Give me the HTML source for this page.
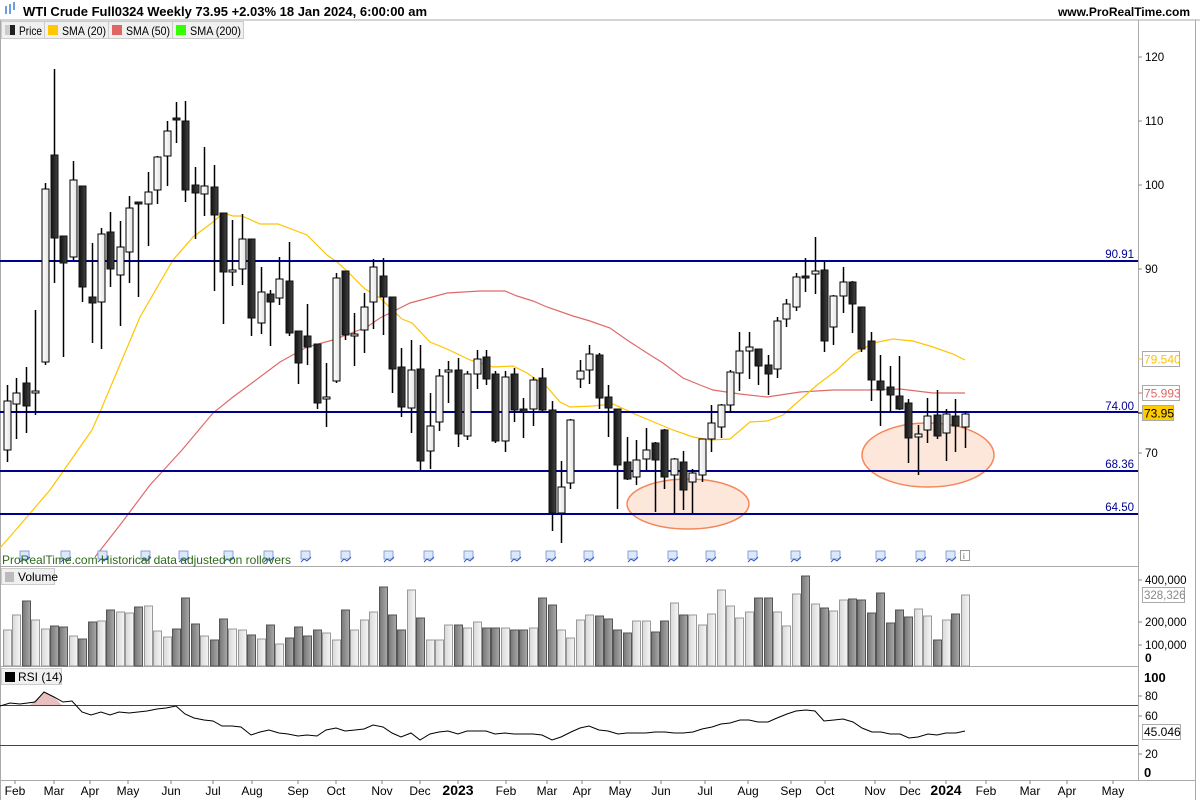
<!DOCTYPE html>
<html><head><meta charset="utf-8"><style>
body{margin:0;background:#fff;width:1200px;height:800px;overflow:hidden;font-family:"Liberation Sans","DejaVu Sans",sans-serif}
svg text{font-family:"Liberation Sans","DejaVu Sans",sans-serif}
</style></head><body>
<svg id="s" width="1200" height="800" xmlns="http://www.w3.org/2000/svg">
<rect width="1200" height="800" fill="#fff"/>
<defs>
<linearGradient id="gb" x1="0" x2="1"><stop offset="0" stop-color="#111"/><stop offset="1" stop-color="#444"/></linearGradient>
<linearGradient id="gw" x1="0" x2="1"><stop offset="0" stop-color="#fff"/><stop offset="1" stop-color="#e4e4e4"/></linearGradient>
<linearGradient id="vd" x1="0" x2="1"><stop offset="0" stop-color="#777"/><stop offset="1" stop-color="#aaa"/></linearGradient>
<linearGradient id="vl" x1="0" x2="1"><stop offset="0" stop-color="#d8d8d8"/><stop offset="1" stop-color="#f6f6f6"/></linearGradient>
</defs>
<g id="g"></g>
</svg>
<script>
const NS="http://www.w3.org/2000/svg";const G=document.getElementById('g');
function el(t,a,txt){const e=document.createElementNS(NS,t);for(const k in a)e.setAttribute(k,a[k]);if(txt!==undefined)e.textContent=txt;G.appendChild(e);return e;}
// frame
el('line',{x1:0,y1:20,x2:1200,y2:20,stroke:'#aaa'});
el('line',{x1:0.5,y1:20,x2:0.5,y2:800,stroke:'#aaa'});
el('line',{x1:1138.5,y1:20,x2:1138.5,y2:780,stroke:'#aaa'});
el('line',{x1:1195.5,y1:20,x2:1195.5,y2:800,stroke:'#aaa'});
el('line',{x1:0,y1:566.5,x2:1138,y2:566.5,stroke:'#aaa'});
el('line',{x1:0,y1:666.5,x2:1138,y2:666.5,stroke:'#aaa'});
el('line',{x1:0,y1:780.5,x2:1196,y2:780.5,stroke:'#aaa'});
// header
el('rect',{x:5,y:6,width:2,height:8,fill:'#6aa0e0'});el('rect',{x:9,y:4,width:2,height:10,fill:'#6aa0e0'});el('rect',{x:13,y:2,width:2,height:8,fill:'#6aa0e0'});
el('text',{x:23,y:16,'font-size':13,'font-weight':'bold',fill:'#000'},'WTI Crude Full0324 Weekly 73.95 +2.03% 18 Jan 2024, 6:00:00 am');
el('text',{x:1190,y:16,'font-size':12,'font-weight':'bold','text-anchor':'end',fill:'#000'},'www.ProRealTime.com');
const leg=[[1,44,'Price','#222',23],[44,108,'SMA (20)','#ffc800',44],[108,172,'SMA (50)','#e06666',44],[172,243,'SMA (200)','#33ff00',51]];
leg.forEach(l=>{el('rect',{x:l[0]+0.5,y:21.5,width:l[1]-l[0],height:17,fill:'#f0f0f0',stroke:'#ccc'});el('rect',{x:l[0]+4,y:25,width:10,height:10,fill:l[3]});el('text',{x:l[0]+18,y:35,'font-size':12,fill:'#000',textLength:l[4],lengthAdjust:'spacingAndGlyphs'},l[2]);});
el('rect',{x:5,y:25,width:5,height:10,fill:'#ccc'});
// ellipses
el('ellipse',{cx:688,cy:504,rx:61,ry:25,fill:'#fde6da',stroke:'#f4875a','stroke-width':1.5});
el('ellipse',{cx:928,cy:455,rx:66,ry:32,fill:'#fde6da',stroke:'#f4875a','stroke-width':1.5});
// SMA lines
const s20=[[0,548],[20,525],[50,490],[78,450],[92,430],[100,412],[140,317],[173,260],[193,237],[213,222],[223,213],[233,216],[242,216],[260,224],[278,224],[307,235],[327,255],[337,262],[347,271],[365,289],[380,298],[402,319],[412,323],[430,342],[447,349],[470,360],[493,367],[513,366],[527,373],[547,387],[560,402],[570,407],[593,406],[613,404],[637,415],[673,430],[693,437],[710,440],[730,439],[750,422],[767,421],[783,415],[800,400],[817,385],[837,370],[853,355],[873,343],[893,339],[913,341],[933,347],[953,354],[965,360]];
const s50=[[95,557],[120,525],[150,485],[182,450],[213,413],[233,397],[260,377],[280,362],[307,347],[333,340],[367,327],[380,318],[410,303],[447,293],[480,291],[505,291],[517,296],[533,301],[547,307],[573,316],[590,321],[610,328],[627,340],[647,353],[663,363],[683,378],[700,385],[713,390],[740,394],[767,397],[800,392],[833,390],[867,390],[900,389],[933,393],[965,393]];
el('polyline',{points:s50.join(' '),fill:'none',stroke:'#e06a6a','stroke-width':1.2});
el('polyline',{points:s20.join(' '),fill:'none',stroke:'#ffc400','stroke-width':1.2});
// horizontal levels
[[261,'90.91',254],[412,'74.00',406],[471,'68.36',464],[514,'64.50',507]].forEach(h=>{el('line',{x1:0,y1:h[0],x2:1138,y2:h[0],stroke:'#00008f','stroke-width':2});el('text',{x:1134,y:h[2]+4,'font-size':11.5,'text-anchor':'end',fill:'#00008f'},h[1]);});
// candles [o,c,h,l]
const C=[[450,401,385,462],[404,393,378,439],[383,406,367,433],[393,391,310,415],[362,189,183,365],[155,238,69,283],[236,263,236,357],[257,180,161,260],[186,287,186,302],[297,303,243,343],[302,234,228,349],[232,269,212,287],[275,247,221,326],[252,208,196,283],[202,204,202,297],[204,192,172,246],[190,157,156,204],[156,131,121,186],[118,120,102,143],[121,190,101,202],[185,193,167,239],[194,186,147,216],[187,215,165,291],[213,272,213,324],[270,270,220,286],[269,239,214,285],[239,318,239,336],[323,292,267,334],[294,302,290,346],[298,279,257,305],[281,333,242,336],[331,363,331,384],[336,347,304,365],[344,403,344,409],[397,397,363,427],[381,278,273,383],[271,335,271,340],[335,334,313,366],[330,307,293,353],[302,267,259,329],[276,297,258,335],[297,369,297,393],[367,407,348,417],[408,370,340,433],[369,461,345,470],[451,426,393,469],[422,376,369,431],[370,370,361,403],[370,434,358,447],[436,374,371,440],[374,359,350,389],[357,379,350,385],[374,441,371,443],[441,377,371,452],[374,410,368,422],[409,412,398,438],[409,380,377,426],[378,410,368,412],[410,513,401,531],[513,487,461,543],[483,420,419,489],[379,371,360,388],[370,354,345,384],[355,398,353,409],[397,408,385,437],[409,465,409,509],[462,479,437,480],[477,460,440,485],[459,450,428,470],[443,460,442,512],[430,477,429,489],[475,459,458,513],[462,490,451,510],[482,473,469,513],[475,439,439,482],[439,423,405,452],[427,405,404,438],[405,372,370,413],[373,351,332,391],[351,347,332,379],[349,366,349,385],[365,374,355,395],[369,321,317,378],[319,304,299,327],[307,277,273,311],[276,277,258,292],[274,271,237,294],[270,341,262,352],[327,296,295,345],[296,282,267,313],[282,304,281,333],[307,349,307,352],[341,380,332,401],[381,390,355,426],[387,395,366,412],[396,409,356,410],[403,438,399,463],[437,434,425,475],[430,416,398,443],[415,436,390,439],[433,414,409,461],[416,426,399,452],[427,414,411,448]];
const X=i=>7+i*9.39;
C.forEach((c,i)=>{const x=Math.round(X(i));const [o,cl,h,l]=c;el('line',{x1:x+0.5,y1:h,x2:x+0.5,y2:l,stroke:'#000','stroke-width':1.5});
 const top=Math.min(o,cl),hh=Math.max(Math.abs(o-cl),2);const bear=cl>o;
 el('rect',{x:x-3,y:top,width:7,height:hh,fill:bear?'url(#gb)':'url(#gw)',stroke:bear?'#111':'#000','stroke-width':1});});
// price axis
[[57,'120'],[121,'110'],[185,'100'],[269,'90'],[453,'70']].forEach(t=>{el('line',{x1:1138,y1:t[0],x2:1142,y2:t[0],stroke:'#888'});el('text',{x:1145,y:t[0]+4,'font-size':11.5,fill:'#000'},t[1]);});
function box(y,txt,col,bg){el('line',{x1:1138,y1:y,x2:1142,y2:y,stroke:col});el('rect',{x:1142.5,y:y-7.5,width:37,height:15,fill:bg,stroke:'#aaa'});el('text',{x:1144,y:y+4.5,'font-size':12,fill:col},txt);}
box(359,'79.540','#ffc000','#fff');box(393,'75.993','#e06666','#fff');
el('line',{x1:1138,y1:413,x2:1142,y2:413,stroke:'#000'});el('rect',{x:1142.5,y:405.5,width:31,height:15,fill:'#ffcc00',stroke:'#aaa'});el('text',{x:1144,y:417.5,'font-size':12,fill:'#000'},'73.95');
// event icons
[24,65,102,145,183,228,268,305,345,388,428,468,515,550,588,632,672,710,752,795,835,880,920,950].forEach(x=>{el('rect',{x:x-4,y:551,width:9,height:8,fill:'#dde8f8',stroke:'#7090d0','stroke-width':0.8});el('polyline',{points:`${x-4},562 ${x-1},559 ${x+2},561 ${x+6},557`,fill:'none',stroke:'#3355cc','stroke-width':1});});
el('rect',{x:960.5,y:550.5,width:9,height:10,fill:'#fff',stroke:'#999'});el('text',{x:963,y:559,'font-size':8,fill:'#555'},'i');
el('text',{x:2,y:564,'font-size':12,fill:'#2d6a1a'},'ProRealTime.com  Historical data adjusted on rollovers');
// volume
el('rect',{x:1.5,y:568.5,width:53,height:16,fill:'#f0f0f0',stroke:'#ccc'});el('rect',{x:5,y:572,width:9,height:10,fill:'#bbb'});el('text',{x:18,y:581,'font-size':12,fill:'#000'},'Volume');
const V=[630,615,601,620,629,626,627,636,639,622,621,610,612,613,607,606,631,637,629,598,624,636,640,619,629,630,635,639,625,644,638,627,636,630,633,640,610,630,620,612,587,615,630,590,618,640,640,625,625,628,622,628,628,628,630,630,628,598,605,630,638,620,615,616,619,630,633,621,621,632,621,603,615,615,625,614,590,606,618,612,598,598,612,626,594,576,604,608,611,600,599,600,613,593,623,610,617,609,616,640,620,614,595];
V.forEach((v,i)=>{const x=Math.round(X(i));const bear=C[i][1]>C[i][0];el('rect',{x:x-3.5,y:v,width:8,height:666-v,fill:bear?'url(#vd)':'url(#vl)',stroke:bear?'#555':'#999','stroke-width':1});});
[[580,'400,000'],[622,'200,000'],[645,'100,000']].forEach(t=>{el('line',{x1:1138,y1:t[0],x2:1142,y2:t[0],stroke:'#888'});el('text',{x:1145,y:t[0]+4,'font-size':11.5,fill:'#000'},t[1]);});
el('text',{x:1145,y:662,'font-size':12,'font-weight':'bold',fill:'#000'},'0');
el('rect',{x:1142.5,y:587.5,width:42,height:15,fill:'#fff',stroke:'#aaa'});el('text',{x:1144,y:599,'font-size':11.5,fill:'#888'},'328,326');
// RSI
el('rect',{x:1.5,y:668.5,width:60,height:16,fill:'#f0f0f0',stroke:'#ccc'});el('rect',{x:5,y:672,width:10,height:10,fill:'#000'});el('text',{x:18,y:681,'font-size':12,fill:'#000'},'RSI (14)');
el('polygon',{points:'30,705 44,692 54,697 62,705',fill:'#e8c0c0',stroke:'none'});
el('line',{x1:0,y1:705.5,x2:1138,y2:705.5,stroke:'#3030e0'});el('line',{x1:0,y1:745.5,x2:1138,y2:745.5,stroke:'#3030e0'});
const R=[[0,706],[10,703],[20,704],[35,702],[44,692],[54,697],[63,702],[72,701],[82,712],[91,715],[101,712],[110,715],[119,712],[129,713],[138,712],[147,711],[157,709],[166,708],[176,706],[185,714],[194,718],[204,720],[213,721],[222,726],[232,726],[241,727],[251,735],[260,732],[269,730],[279,733],[288,734],[298,736],[307,735],[317,736],[326,730],[336,728],[345,731],[355,730],[364,729],[373,725],[383,727],[392,733],[401,737],[411,733],[420,740],[430,734],[439,732],[448,731],[458,734],[467,731],[476,731],[486,731],[495,734],[505,733],[514,734],[523,734],[533,734],[542,735],[552,740],[561,737],[571,732],[580,728],[589,726],[599,730],[608,731],[618,734],[627,733],[636,733],[646,733],[655,732],[665,732],[674,733],[683,733],[693,732],[702,729],[712,727],[721,724],[730,723],[740,720],[749,720],[758,722],[768,722],[777,718],[787,714],[796,711],[806,710],[815,711],[824,721],[834,720],[843,719],[853,722],[862,728],[872,732],[881,732],[890,734],[900,734],[909,738],[918,737],[928,734],[937,735],[946,733],[956,733],[965,731]];
el('polyline',{points:R.join(' '),fill:'none',stroke:'#000','stroke-width':1});
[[696,'80'],[716,'60'],[754,'20']].forEach(t=>{el('line',{x1:1138,y1:t[0],x2:1142,y2:t[0],stroke:'#888'});el('text',{x:1145,y:t[0]+4,'font-size':11.5,fill:'#000'},t[1]);});
el('text',{x:1144,y:682,'font-size':13,'font-weight':'bold',fill:'#000'},'100');el('text',{x:1144,y:777,'font-size':13,'font-weight':'bold',fill:'#000'},'0');
el('rect',{x:1142.5,y:724.5,width:38,height:15,fill:'#fff',stroke:'#aaa'});el('text',{x:1144,y:736,'font-size':12,fill:'#000'},'45.046');
// x axis
[[15,'Feb'],[54,'Mar'],[90,'Apr'],[128,'May'],[171,'Jun'],[213,'Jul'],[252,'Aug'],[298,'Sep'],[336,'Oct'],[382,'Nov'],[420,'Dec'],[458,'2023',1],[506,'Feb'],[547,'Mar'],[582,'Apr'],[620,'May'],[661,'Jun'],[705,'Jul'],[748,'Aug'],[791,'Sep'],[825,'Oct'],[875,'Nov'],[910,'Dec'],[946,'2024',1],[986,'Feb'],[1030,'Mar'],[1067,'Apr'],[1113,'May']].forEach(t=>{el('line',{x1:t[0],y1:780,x2:t[0],y2:784,stroke:'#888'});el('text',{x:t[0],y:795,'font-size':t[2]?14:12,'font-weight':t[2]?'bold':'normal','text-anchor':'middle',fill:'#000'},t[1]);});
</script>
</body></html>
